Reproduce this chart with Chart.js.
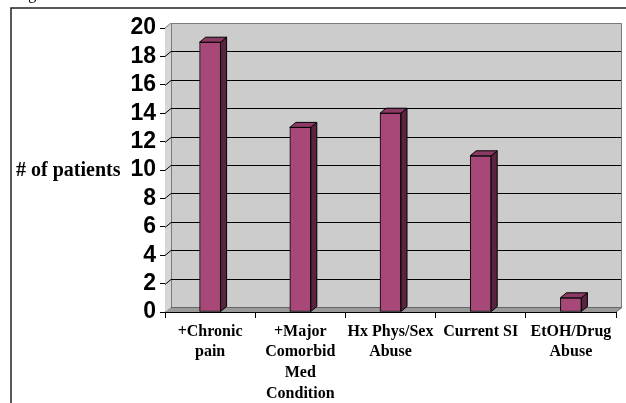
<!DOCTYPE html>
<html>
<head>
<meta charset="utf-8">
<script src="https://cdn.jsdelivr.net/npm/chart.js@4/dist/chart.umd.min.js"></script>
<style>
  html, body { margin: 0; padding: 0; background: #ffffff; }
  #wrap { position: relative; width: 626px; height: 403px; }
  canvas { display: block; }
</style>
</head>
<body>
<div id="wrap"><canvas id="chart" width="626" height="403"></canvas></div>
<script>
// Patient counts per clinical factor
const categories = [
  ["+Chronic", "pain"],
  ["+Major", "Comorbid", "Med", "Condition"],
  ["Hx Phys/Sex", "Abuse"],
  ["Current SI"],
  ["EtOH/Drug", "Abuse"]
];
const patientCounts = [19, 13, 14, 11, 1];
const yMin = 0;
const yMax = 20;
const yStep = 2;
const yTitle = "# of patients";
const figureCaption = "Figure";

// Depth offsets for the pseudo-3D walls and bar blocks
const WALL_DX = 6, WALL_DY = 5;
const BAR_DX = 6, BAR_DY = 5;

const FRONT = "#a84878", SIDE = "#5c2341", TOP = "#8a3a63";

const box3d = {
  id: "box3d",
  beforeDatasetsDraw(chart) {
    const { ctx, chartArea: a, scales: { y } } = chart;
    const L = a.left, R = a.right, T = a.top, B = a.bottom;
    ctx.save();
    // back wall
    ctx.fillStyle = "#cccccc";
    ctx.fillRect(L + WALL_DX, T - WALL_DY, R - L, B - T);
    // left side wall
    ctx.fillStyle = "#d6d6d6";
    ctx.beginPath();
    ctx.moveTo(L, T); ctx.lineTo(L + WALL_DX, T - WALL_DY);
    ctx.lineTo(L + WALL_DX, B - WALL_DY); ctx.lineTo(L, B);
    ctx.closePath(); ctx.fill();
    // floor
    ctx.fillStyle = "#9a9a9a";
    ctx.beginPath();
    ctx.moveTo(L, B); ctx.lineTo(L + WALL_DX, B - WALL_DY);
    ctx.lineTo(R + WALL_DX, B - WALL_DY); ctx.lineTo(R, B);
    ctx.closePath(); ctx.fill();
    // wall outlines
    ctx.strokeStyle = "#7a7a7a";
    ctx.lineWidth = 1;
    ctx.beginPath();
    ctx.moveTo(L + WALL_DX + 0.5, B - WALL_DY);
    ctx.lineTo(L + WALL_DX + 0.5, T - WALL_DY + 0.5);
    ctx.lineTo(R + WALL_DX - 0.5, T - WALL_DY + 0.5);
    ctx.lineTo(R + WALL_DX - 0.5, B - WALL_DY);
    ctx.moveTo(L, T); ctx.lineTo(L + WALL_DX, T - WALL_DY);
    ctx.stroke();
    ctx.strokeStyle = "#666666";
    ctx.beginPath();
    ctx.moveTo(L + WALL_DX, B - WALL_DY + 0.5);
    ctx.lineTo(R + WALL_DX, B - WALL_DY + 0.5);
    ctx.lineTo(R, B);
    ctx.stroke();
    // gridlines on back wall + connectors on side wall
    ctx.strokeStyle = "#000000";
    for (let v = yMin + yStep; v < yMax; v += yStep) {
      const py = Math.round(y.getPixelForValue(v)) + 0.5;
      ctx.beginPath();
      ctx.moveTo(L, py);
      ctx.lineTo(L + WALL_DX, py - WALL_DY);
      ctx.lineTo(R + WALL_DX - 1, py - WALL_DY);
      ctx.stroke();
    }
    ctx.restore();
  },
  afterDatasetsDraw(chart) {
    const { ctx } = chart;
    const meta = chart.getDatasetMeta(0);
    ctx.save();
    ctx.strokeStyle = "#000000";
    ctx.lineWidth = 1;
    ctx.lineJoin = "round";
    meta.data.forEach(el => {
      const { x, y, base, width } = el.getProps(["x", "y", "base", "width"], true);
      const l = x - width / 2, r = x + width / 2;
      // side face
      ctx.fillStyle = SIDE;
      ctx.beginPath();
      ctx.moveTo(r, y); ctx.lineTo(r + BAR_DX, y - BAR_DY);
      ctx.lineTo(r + BAR_DX, base - BAR_DY); ctx.lineTo(r, base);
      ctx.closePath(); ctx.fill(); ctx.stroke();
      // top face
      ctx.fillStyle = TOP;
      ctx.beginPath();
      ctx.moveTo(l, y); ctx.lineTo(l + BAR_DX, y - BAR_DY);
      ctx.lineTo(r + BAR_DX, y - BAR_DY); ctx.lineTo(r, y);
      ctx.closePath(); ctx.fill(); ctx.stroke();
    });
    ctx.restore();
  },
  afterDraw(chart) {
    const { ctx, scales: { y } } = chart;
    ctx.save();
    // outer frame
    ctx.strokeStyle = "#222222";
    ctx.lineWidth = 1.5;
    ctx.beginPath();
    ctx.moveTo(11, 403); ctx.lineTo(11, 8); ctx.lineTo(626, 8);
    ctx.stroke();
    // caption above the frame
    ctx.fillStyle = "#000000";
    ctx.font = "16px 'Liberation Serif', serif";
    ctx.textBaseline = "alphabetic";
    ctx.textAlign = "left";
    ctx.fillText(figureCaption, 15, -1);
    // horizontal axis title
    ctx.font = "bold 20px 'Liberation Serif', serif";
    ctx.textBaseline = "middle";
    ctx.fillText(yTitle, 16, y.getPixelForValue(10) + 1);
    ctx.restore();
  }
};

new Chart(document.getElementById("chart"), {
  type: "bar",
  data: {
    labels: categories,
    datasets: [{
      data: patientCounts,
      backgroundColor: FRONT,
      borderColor: "#000000",
      borderWidth: 1,
      borderSkipped: false,
      barThickness: 21
    }]
  },
  options: {
    responsive: false,
    animation: false,
    devicePixelRatio: 1,
    layout: { padding: { left: 0, top: 28, right: 10, bottom: 0 } },
    plugins: { legend: { display: false }, tooltip: { enabled: false } },
    scales: {
      x: {
        afterFit(s) { s.height = 91; },
        grid: { drawOnChartArea: false, offset: true, tickLength: 6, color: "#000000" },
        border: { color: "#000000", width: 1 },
        ticks: {
          color: "#000000",
          maxRotation: 0,
          autoSkip: false,
          padding: 3,
          font: { family: "'Liberation Serif', serif", weight: "bold", size: 16, lineHeight: 1.3 }
        }
      },
      y: {
        min: yMin,
        max: yMax,
        afterFit(s) { s.width = 165; },
        grid: { drawOnChartArea: false, tickLength: 5, color: "#000000" },
        border: { color: "#000000", width: 1 },
        ticks: {
          stepSize: yStep,
          autoSkip: false,
          color: "#000000",
          padding: 4,
          font: { family: "'Liberation Sans', Arial, sans-serif", weight: "bold", size: 23 }
        }
      }
    }
  },
  plugins: [box3d]
});
</script>
</body>
</html>
